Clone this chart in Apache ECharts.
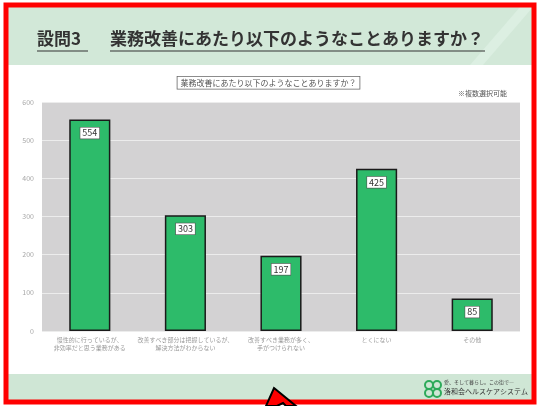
<!DOCTYPE html>
<html>
<head>
<meta charset="utf-8">
<script src="https://cdn.jsdelivr.net/npm/echarts@6/dist/echarts.min.js"></script>
<style>
  html, body { margin: 0; padding: 0; background: #fff; }
  #chart { width: 537px; height: 406px; }
</style>
</head>
<body>
<div id="chart"></div>
<script>
// 設問3のデータ
var categories = [
  '慢性的に行っているが、\n非効率だと思う業務がある',
  '改善すべき部分は把握しているが、\n解決方法がわからない',
  '改善すべき業務が多く、\n手がつけられない',
  'とくにない',
  'その他'
];
var counts = [554, 303, 197, 425, 85];
var yTicks = [0, 100, 200, 300, 400, 500, 600];

var font = '"Noto Sans CJK JP", sans-serif';
var chart = echarts.init(document.getElementById('chart'));

var option = {
  backgroundColor: '#fff',
  animation: false,
  textStyle: { fontFamily: font },
  grid: { left: 42, right: 17, top: 102, bottom: 75, show: true, backgroundColor: '#d3d2d3', borderWidth: 0 },
  xAxis: {
    type: 'category',
    data: categories,
    axisLine: { show: false },
    axisTick: { show: false },
    axisLabel: { interval: 0, color: '#9a9a9a', fontSize: 6, lineHeight: 8, margin: 5, fontFamily: font }
  },
  yAxis: {
    type: 'value',
    min: yTicks[0],
    max: yTicks[yTicks.length - 1],
    interval: 100,
    axisLine: { show: false },
    axisTick: { show: false },
    splitLine: { lineStyle: { color: '#ececec', width: 1 } },
    axisLabel: { color: '#a8a8a8', fontSize: 7, margin: 8 }
  },
  series: [{
    type: 'bar',
    data: counts,
    barWidth: '43%',
    itemStyle: { color: '#2dbb6a', borderColor: '#1a1a1a', borderWidth: 1.5 },
    label: {
      show: true,
      position: 'insideTop',
      offset: [0, 3],
      color: '#333',
      fontSize: 9,
      backgroundColor: '#fff',
      borderColor: '#555',
      borderWidth: 0.6,
      padding: [1, 2]
    }
  }],
  graphic: [
    // 上部バナー
    { type: 'rect', z: -1, shape: { x: 7, y: 7, width: 526, height: 58 }, style: { fill: '#d2e8d8' } },
    { type: 'polygon', z: -1, shape: { points: [[470, 65], [520, 7], [533, 7], [483, 65]] }, style: { fill: '#dcefe2' } },
    { type: 'text', left: 37, top: 30, style: { text: '設問3', font: 'bold 17px ' + font, fill: '#333' } },
    { type: 'line', shape: { x1: 37, y1: 51, x2: 88, y2: 51 }, style: { stroke: '#333', lineWidth: 1.2 } },
    { type: 'text', left: 110, top: 30, style: { text: '業務改善にあたり以下のようなことありますか？', font: 'bold 17px ' + font, fill: '#333' } },
    { type: 'line', shape: { x1: 110, y1: 51, x2: 485, y2: 51 }, style: { stroke: '#333', lineWidth: 1.2 } },
    // グラフタイトル
    { type: 'text', left: 'center', top: 76, style: { text: '業務改善にあたり以下のようなことありますか？', font: '8px ' + font, fill: '#555', backgroundColor: '#fff', borderColor: '#666', borderWidth: 0.8, padding: [2, 3] } },
    { type: 'text', right: 30, top: 90, style: { text: '※複数選択可能', font: '7px ' + font, fill: '#555' } },
    // 下部バンド
    { type: 'rect', z: -1, shape: { x: 7, y: 374, width: 526, height: 27 }, style: { fill: '#cfe6d5' } },
    { type: 'circle', shape: { cx: 429, cy: 385, r: 4 }, style: { fill: 'none', stroke: '#2daa5a', lineWidth: 2 } },
    { type: 'circle', shape: { cx: 437, cy: 385, r: 4 }, style: { fill: 'none', stroke: '#2daa5a', lineWidth: 2 } },
    { type: 'circle', shape: { cx: 429, cy: 393, r: 4 }, style: { fill: 'none', stroke: '#2daa5a', lineWidth: 2 } },
    { type: 'circle', shape: { cx: 437, cy: 393, r: 4 }, style: { fill: 'none', stroke: '#2daa5a', lineWidth: 2 } },
    { type: 'text', left: 444, top: 380, style: { text: '愛、そして暮らし。この街で―', font: '5px ' + font, fill: '#444' } },
    { type: 'text', left: 444, top: 388, style: { text: '洛和会ヘルスケアシステム', font: '7px ' + font, fill: '#333' } },
    // 赤枠
    { type: 'rect', shape: { x: 6, y: 5, width: 528, height: 397 }, style: { fill: 'none', stroke: '#ff0000', lineWidth: 5 } },
    // 矢印
    { type: 'polygon', shape: { points: [[274, 388], [296, 406], [286, 406], [283, 403], [277, 406], [266, 406]] }, style: { fill: '#ff0000', stroke: '#000', lineWidth: 2 } }
  ]
};

chart.setOption(option);
</script>
</body>
</html>
